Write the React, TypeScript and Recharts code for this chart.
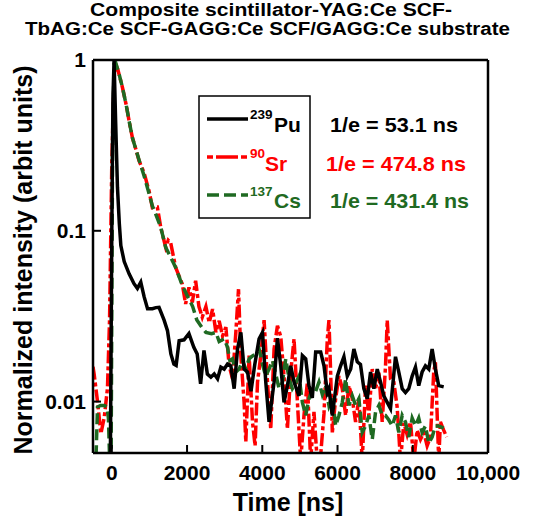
import { LineChart, Line, XAxis, YAxis } from 'recharts';

// axis setup
const X_DOMAIN = [-500, 10000];
const Y_DOMAIN = [0.005, 1];
const xMajorTicks = [0, 2000, 4000, 6000, 8000, 10000];
const xMinorTicks = [-500, 500, 1000, 1500, 2500, 3000, 3500, 4500, 5000, 5500, 6500, 7000, 7500, 8500, 9000, 9500];
const yMajorTicks = [0.01, 0.1, 1];
const yMinorTicks = [
  0.006, 0.007, 0.008, 0.009,
  0.02, 0.03, 0.04, 0.05, 0.06, 0.07, 0.08, 0.09,
  0.2, 0.3, 0.4, 0.5, 0.6, 0.7, 0.8, 0.9,
];

// 239Pu
const timePu = [
  -500, -40, 0, 30, 60, 100, 150, 200, 240, 330,
  460, 590, 680, 770, 860, 950, 1080, 1170, 1255, 1390,
  1480, 1570, 1650, 1710, 1790, 1920, 2050, 2180, 2270, 2360,
  2450, 2540, 2634, 2722, 2811, 2899, 2987, 3076, 3164, 3252,
  3342, 3430, 3517, 3607, 3700, 3800, 3915, 4005, 4093, 4180,
  4313, 4403, 4491, 4578, 4668, 4756, 4844, 4976, 5066, 5154,
  5241, 5330, 5419, 5552, 5640, 5729, 5772, 5862, 5995, 6082,
  6170, 6260, 6350, 6435, 6525, 6610, 6700, 6790, 6878, 6967,
  7056, 7143, 7231, 7321, 7408, 7541, 7629, 7719, 7806, 7894,
  7984, 8072, 8159, 8249, 8337, 8426, 8515, 8602, 8690, 8822,
];
const pu = [
  0.004, 0.004, 0.1, 0.6, 1.0, 0.45, 0.18, 0.11, 0.082, 0.066,
  0.056, 0.049, 0.046, 0.05, 0.041, 0.035, 0.035, 0.0355, 0.0356, 0.03,
  0.026, 0.019, 0.0166, 0.0163, 0.0227, 0.023, 0.025, 0.0208, 0.019, 0.0127,
  0.0199, 0.0145, 0.0139, 0.0145, 0.0136, 0.0159, 0.0155, 0.0166, 0.0162, 0.0119,
  0.0203, 0.0254, 0.0155, 0.0149, 0.0115, 0.0165, 0.0233, 0.0254, 0.013, 0.0076,
  0.013, 0.0235, 0.0162, 0.0099, 0.0124, 0.0162, 0.013, 0.0108, 0.0186, 0.0178,
  0.0124, 0.0105, 0.0195, 0.0195, 0.0162, 0.0113, 0.0119, 0.0083, 0.0141, 0.0162,
  0.0183, 0.0141, 0.0155, 0.0203, 0.0171, 0.0165, 0.0119, 0.0104, 0.0149, 0.0119,
  0.0155, 0.013, 0.0108, 0.0099, 0.0091, 0.0183, 0.0149, 0.0119, 0.0113, 0.0119,
  0.0141, 0.0159, 0.0124, 0.0149, 0.0162, 0.0155, 0.0203, 0.0155, 0.0124, 0.0122,
];

// 90Sr
const timeSr = [
  -500, -470, -380, -290, -200, -115, -60, 0, 60, 100,
  160, 283, 380, 459, 548, 640, 724, 857, 990, 1078,
  1130, 1210, 1300, 1432, 1500, 1565, 1697, 1873, 1962, 2050,
  2140, 2228, 2316, 2404, 2501, 2589, 2679, 2767, 2854, 2944,
  3032, 3119, 3209, 3297, 3368, 3430, 3517, 3562, 3650, 3740,
  3809, 3873, 3960, 4048, 4138, 4225, 4313, 4403, 4491, 4578,
  4668, 4756, 4844, 4934, 5021, 5109, 5199, 5286, 5374, 5460,
  5550, 5640, 5729, 5772, 5817, 5862, 5950, 6038, 6127, 6215,
  6303, 6392, 6480, 6568, 6657, 6745, 6833, 6923, 7011, 7100,
  7188, 7276, 7321, 7408, 7497, 7585, 7673, 7763, 7850, 7940,
  8028, 8117, 8205, 8293, 8382, 8470, 8557, 8602, 8690, 8735,
  8822, 8900,
];
const sr = [
  0.016, 0.0145, 0.01, 0.0065, 0.0081, 0.012, 0.03, 0.25, 0.8, 0.95,
  0.88, 0.69, 0.55, 0.44, 0.35, 0.3, 0.257, 0.219, 0.171, 0.137,
  0.138, 0.138, 0.105, 0.08, 0.088, 0.085, 0.061, 0.0488, 0.0373, 0.0467,
  0.038, 0.051, 0.036, 0.0312, 0.036, 0.029, 0.0348, 0.0255, 0.0297, 0.0242,
  0.0273, 0.0162, 0.0136, 0.0254, 0.0455, 0.0186, 0.0099, 0.0058, 0.0186, 0.0076,
  0.0055, 0.013, 0.0186, 0.03, 0.013, 0.0069, 0.0203, 0.0278, 0.024, 0.0141,
  0.0069, 0.0149, 0.0233, 0.0099, 0.0045, 0.0083, 0.013, 0.0045, 0.0087, 0.0045,
  0.0048, 0.0085, 0.0233, 0.03, 0.0149, 0.0066, 0.0104, 0.0141, 0.0119, 0.0083,
  0.0124, 0.0104, 0.0076, 0.0104, 0.0045, 0.0124, 0.0083, 0.0155, 0.0119, 0.0148,
  0.0076, 0.0162, 0.03, 0.0136, 0.013, 0.0093, 0.0045, 0.0075, 0.0064, 0.0076,
  0.0045, 0.0068, 0.006, 0.0066, 0.0055, 0.0062, 0.0149, 0.017, 0.0045, 0.0076,
  0.0068, 0.0062,
];

// 137Cs
const timeCs = [
  -500, -430, -380, -300, -200, -130, -90, -50, -20, 20,
  60, 100, 180, 283, 380, 459, 548, 640, 724, 857,
  990, 1078, 1200, 1300, 1432, 1565, 1697, 1873, 2000, 2150,
  2260, 2404, 2501, 2650, 2767, 2854, 2987, 3076, 3138, 3209,
  3297, 3386, 3474, 3562, 3650, 3740, 3827, 3915, 4005, 4093,
  4180, 4270, 4358, 4446, 4535, 4624, 4712, 4800, 4890, 4976,
  5066, 5154, 5241, 5330, 5419, 5507, 5596, 5684, 5772, 5862,
  5950, 6038, 6127, 6215, 6303, 6392, 6480, 6568, 6657, 6745,
  6833, 6923, 7011, 7100, 7188, 7276, 7364, 7453, 7541, 7629,
  7719, 7806, 7894, 7984, 8072, 8159, 8249, 8337, 8426, 8515,
  8602, 8690, 8822,
];
const cs = [
  0.004, 0.004, 0.0093, 0.0095, 0.0095, 0.0093, 0.008, 0.004, 0.004, 0.3,
  0.95, 0.97, 0.85, 0.69, 0.55, 0.44, 0.35, 0.3, 0.26, 0.21,
  0.165, 0.14, 0.12, 0.105, 0.08, 0.07, 0.061, 0.048, 0.042, 0.036,
  0.03, 0.027, 0.0254, 0.025, 0.0254, 0.0225, 0.0233, 0.0208, 0.0174, 0.0178,
  0.0149, 0.0155, 0.0174, 0.0155, 0.0178, 0.0185, 0.019, 0.0203, 0.0165, 0.0141,
  0.0155, 0.0174, 0.0145, 0.0119, 0.013, 0.0178, 0.0136, 0.0119, 0.0128, 0.0141,
  0.0099, 0.0083, 0.0104, 0.0119, 0.0115, 0.013, 0.011, 0.0124, 0.0095, 0.0108,
  0.0072, 0.0083, 0.0099, 0.0136, 0.0095, 0.0108, 0.0095, 0.0104, 0.0066, 0.0072,
  0.0083, 0.006, 0.0087, 0.0095, 0.0083, 0.0083, 0.0078, 0.0072, 0.0083, 0.0066,
  0.0083, 0.0076, 0.0062, 0.008, 0.0072, 0.008, 0.0066, 0.0072, 0.0057, 0.0062,
  0.0072, 0.0072, 0.007,
];

const RED = '#ff0000';
const GREEN = '#1f6a22';
const FONT = '"Liberation Sans", Arial, sans-serif';

const toPoints = (t: number[], v: number[]) => t.map((x, i) => ({ t: x, v: v[i] }));

const formatX = (v: number) => (v >= 10000 ? v.toLocaleString('en-US') : String(v));
const formatY = (v: number) => String(v);

const tickFont = { fill: '#000', fontSize: 21, fontWeight: 'bold', fontFamily: FONT };
const frame = { stroke: '#000', strokeWidth: 2.5 };
const tickStroke = { stroke: '#000', strokeWidth: 2 };

export default function App() {
  return (
    <div style={{ position: 'absolute', left: 0, top: 0, width: 550, height: 519, background: '#fff' }}>
      <LineChart width={550} height={519} margin={{ top: 0, right: 0, bottom: 0, left: 0 }}>
        {/* bottom */}
        <XAxis xAxisId="minB" type="number" dataKey="t" domain={X_DOMAIN} ticks={xMinorTicks}
          orientation="bottom" height={0} axisLine={false} tick={false} tickSize={-5}
          tickLine={tickStroke} allowDataOverflow />
        <XAxis xAxisId="main" type="number" dataKey="t" domain={X_DOMAIN} ticks={xMajorTicks}
          orientation="bottom" height={66} axisLine={frame} tick={tickFont} tickSize={-8}
          tickMargin={20} tickLine={tickStroke} tickFormatter={formatX} allowDataOverflow interval={0} />
        {/* top */}
        <XAxis xAxisId="minT" type="number" dataKey="t" domain={X_DOMAIN} ticks={xMinorTicks}
          orientation="top" height={0} axisLine={false} tick={false} tickSize={-5}
          tickLine={tickStroke} allowDataOverflow />
        <XAxis xAxisId="majT" type="number" dataKey="t" domain={X_DOMAIN} ticks={xMajorTicks}
          orientation="top" height={60} axisLine={frame} tick={false} tickSize={-8}
          tickLine={tickStroke} allowDataOverflow />
        {/* left */}
        <YAxis yAxisId="minL" type="number" scale="log" domain={Y_DOMAIN} ticks={yMinorTicks}
          orientation="left" width={0} axisLine={false} tick={false} tickSize={-4}
          tickLine={tickStroke} allowDataOverflow />
        <YAxis yAxisId="main" type="number" scale="log" domain={Y_DOMAIN} ticks={yMajorTicks}
          orientation="left" width={93} axisLine={frame} tick={tickFont} tickSize={-8}
          tickMargin={15} tickLine={tickStroke} tickFormatter={formatY} allowDataOverflow interval={0} />
        {/* right */}
        <YAxis yAxisId="minR" type="number" scale="log" domain={Y_DOMAIN} ticks={yMinorTicks}
          orientation="right" width={0} axisLine={false} tick={false} tickSize={-4}
          tickLine={tickStroke} allowDataOverflow />
        <YAxis yAxisId="majR" type="number" scale="log" domain={Y_DOMAIN} ticks={yMajorTicks}
          orientation="right" width={62} axisLine={frame} tick={false} tickSize={-8}
          tickLine={tickStroke} allowDataOverflow />

        <Line xAxisId="main" yAxisId="main" data={toPoints(timeSr, sr)} dataKey="v" name="90Sr"
          stroke={RED} strokeWidth={3.5} strokeDasharray="13 3 4 3" dot={false} activeDot={false}
          isAnimationActive={false} />
        <Line xAxisId="main" yAxisId="main" data={toPoints(timeCs, cs)} dataKey="v" name="137Cs"
          stroke={GREEN} strokeWidth={3.5} strokeDasharray="11 5" dot={false} activeDot={false}
          isAnimationActive={false} />
        <Line xAxisId="main" yAxisId="main" data={toPoints(timePu, pu)} dataKey="v" name="239Pu"
          stroke="#000" strokeWidth={3.5} dot={false} activeDot={false} isAnimationActive={false} />
      </LineChart>

      <svg width={550} height={519} style={{ position: 'absolute', left: 0, top: 0, pointerEvents: 'none' }}
        fontFamily={FONT} fontWeight="bold">
        <text x={90} y={16} fontSize={17.5} textLength={362} lengthAdjust="spacingAndGlyphs">
          Composite scintillator-YAG:Ce SCF-
        </text>
        <text x={25} y={35} fontSize={17.5} textLength={485} lengthAdjust="spacingAndGlyphs">
          TbAG:Ce SCF-GAGG:Ce SCF/GAGG:Ce substrate
        </text>

        <text transform="translate(32,260) rotate(-90)" textAnchor="middle" fontSize={25}>
          Normalized intensity (arbit units)
        </text>
        <text x={288} y={511} textAnchor="middle" fontSize={25}>Time [ns]</text>

        {/* legend */}
        <rect x={199} y={96} width={111} height={122} fill="#fff" stroke="#000" strokeWidth={1.5} />
        <line x1={207} y1={119} x2={248} y2={119} stroke="#000" strokeWidth={3.5} />
        <line x1={207} y1={157} x2={248} y2={157} stroke={RED} strokeWidth={3.5} strokeDasharray="6 3 22 3" />
        <line x1={207} y1={195} x2={248} y2={195} stroke={GREEN} strokeWidth={3.5} strokeDasharray="12 5" />

        <text x={250} y={119} fontSize={13.5}>239</text>
        <text x={274} y={132} fontSize={21}>Pu</text>
        <text x={250} y={158} fontSize={13.5} fill={RED}>90</text>
        <text x={265} y={171} fontSize={21} fill={RED}>Sr</text>
        <text x={250} y={196} fontSize={13.5} fill={GREEN}>137</text>
        <text x={274} y={208} fontSize={21} fill={GREEN}>Cs</text>

        <text x={330} y={132} fontSize={21} textLength={128} lengthAdjust="spacingAndGlyphs">1/e = 53.1 ns</text>
        <text x={326} y={171} fontSize={21} fill={RED} textLength={140} lengthAdjust="spacingAndGlyphs">1/e = 474.8 ns</text>
        <text x={330} y={208} fontSize={21} fill={GREEN} textLength={139} lengthAdjust="spacingAndGlyphs">1/e = 431.4 ns</text>
      </svg>
    </div>
  );
}
